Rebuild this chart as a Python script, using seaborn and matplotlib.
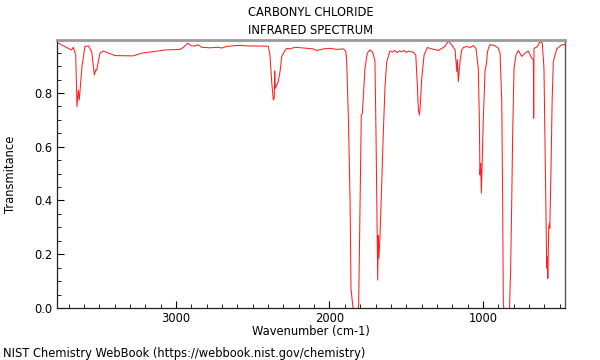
import numpy as np
import pandas as pd
import matplotlib
matplotlib.use("Agg")
import matplotlib.pyplot as plt
import seaborn as sns
from matplotlib.ticker import MultipleLocator, FixedLocator

# ---- data ----
wavenumber = [
    3775, 3702, 3679, 3669, 3653, 3645, 3636, 3630, 3612, 3593, 3571, 3549,
    3532, 3523, 3517, 3495, 3474, 3397, 3278, 3223, 3104, 3072, 2974, 2952,
    2924, 2898, 2876, 2855, 2833, 2779, 2724, 2702, 2670, 2594, 2529, 2399,
    2388, 2375, 2366, 2360, 2357, 2353, 2334, 2322, 2311, 2290, 2279, 2257,
    2225, 2149, 2106, 2083, 2040, 1997, 1953, 1910, 1894, 1888, 1877, 1866,
    1860, 1849, 1840, 1819, 1810, 1801, 1793, 1786, 1769, 1754, 1736, 1719,
    1704, 1697, 1689, 1686, 1682, 1678, 1671, 1660, 1650, 1638, 1627, 1606,
    1590, 1575, 1560, 1545, 1530, 1515, 1500, 1485, 1470, 1454, 1438, 1428,
    1421, 1414, 1410, 1399, 1384, 1363, 1334, 1291, 1248, 1226, 1204, 1182,
    1171, 1167, 1161, 1150, 1139, 1128, 1106, 1085, 1063, 1046, 1031, 1024,
    1020, 1015, 1011, 1007, 998, 987, 976, 972, 965, 954, 922, 900,
    889, 878, 872, 868, 861, 829, 820, 813, 807, 798, 785, 770,
    748, 726, 705, 683, 672, 670, 668, 655, 646, 629, 614, 603,
    594, 585, 581, 578, 572, 568, 565, 557, 550, 542, 520, 487, 466,
]
transmittance = [
    0.988, 0.966, 0.960, 0.970, 0.941, 0.749, 0.810, 0.774, 0.900, 0.973, 0.975, 0.954,
    0.867, 0.886, 0.884, 0.948, 0.956, 0.939, 0.938, 0.948, 0.957, 0.960, 0.962, 0.969,
    0.985, 0.975, 0.975, 0.979, 0.970, 0.968, 0.970, 0.967, 0.973, 0.977, 0.975, 0.974,
    0.941, 0.830, 0.774, 0.780, 0.882, 0.817, 0.842, 0.880, 0.936, 0.958, 0.966, 0.964,
    0.970, 0.966, 0.964, 0.958, 0.964, 0.966, 0.962, 0.964, 0.955, 0.917, 0.706, 0.396,
    0.073, 0.011, -0.030, -0.030, 0.011, 0.396, 0.718, 0.724, 0.892, 0.948, 0.960, 0.952,
    0.920, 0.644, 0.270, 0.104, 0.270, 0.186, 0.270, 0.458, 0.644, 0.830, 0.917, 0.956,
    0.952, 0.958, 0.950, 0.957, 0.953, 0.958, 0.951, 0.956, 0.953, 0.952, 0.941, 0.830,
    0.737, 0.718, 0.743, 0.856, 0.941, 0.969, 0.964, 0.958, 0.973, 0.993, 0.979, 0.960,
    0.880, 0.924, 0.842, 0.917, 0.960, 0.969, 0.973, 0.969, 0.976, 0.966, 0.892, 0.706,
    0.495, 0.538, 0.427, 0.507, 0.706, 0.880, 0.917, 0.950, 0.966, 0.980, 0.976, 0.966,
    0.948, 0.768, 0.396, 0.023, -0.030, -0.030, 0.148, 0.396, 0.644, 0.892, 0.941, 0.958,
    0.936, 0.948, 0.956, 0.929, 0.924, 0.706, 0.966, 0.969, 0.973, 0.991, 0.985, 0.892,
    0.520, 0.148, 0.190, 0.110, 0.297, 0.315, 0.297, 0.520, 0.768, 0.917, 0.964, 0.979, 0.980,
]
x_ticks = [3000, 2000, 1000]
y_ticks = [0.0, 0.2, 0.4, 0.6, 0.8]

df = pd.DataFrame({"wn": wavenumber, "T": transmittance})

sns.set_style("ticks")
plt.rcParams["font.family"] = ["DejaVu Sans"]
plt.rcParams["text.color"] = "black"
plt.rcParams["axes.labelcolor"] = "black"
plt.rcParams["xtick.color"] = "black"
plt.rcParams["ytick.color"] = "black"

FS = 8.3

fig = plt.figure(figsize=(6, 3.6), dpi=100)
ax = fig.add_axes([57 / 600, 1 - 308 / 360, (565 - 57) / 600, (308 - 40) / 360])

sns.lineplot(data=df, x="wn", y="T", ax=ax, sort=False, color="#ff2020",
             linewidth=0.75, estimator=None)

ax.set_xlim(3775, 466)
ax.set_ylim(0, 0.997)
ax.xaxis.set_major_locator(FixedLocator(x_ticks))
ax.xaxis.set_minor_locator(MultipleLocator(100))
ax.yaxis.set_major_locator(FixedLocator(y_ticks))
ax.yaxis.set_minor_locator(MultipleLocator(0.05))
ax.set_xticklabels([str(v) for v in x_ticks])
ax.set_yticklabels([f"{v:.1f}" for v in y_ticks])
ax.tick_params(which="major", direction="in", length=5, width=0.8, labelsize=FS, pad=3)
ax.tick_params(which="minor", direction="in", length=3, width=0.6)

ax.set_xlabel("Wavenumber (cm-1)", fontsize=FS)
ax.set_ylabel("Transmitance", fontsize=FS)
ax.xaxis.set_label_coords(0.5, (308 - 332) / 268)
ax.yaxis.set_label_coords((11 - 57) / 508, 0.5)
ax.xaxis.label.set_va("center")
ax.yaxis.label.set_va("center")

for side in ["left", "bottom"]:
    ax.spines[side].set_color("#222222")
    ax.spines[side].set_linewidth(0.9)
ax.spines["top"].set_color("#9a9a9a")
ax.spines["top"].set_linewidth(2.0)
ax.spines["right"].set_color("#555555")
ax.spines["right"].set_linewidth(1.0)

fig.text(311 / 600, 1 - 13 / 360, "CARBONYL CHLORIDE", ha="center", va="center", fontsize=FS)
fig.text(311 / 600, 1 - 30 / 360, "INFRARED SPECTRUM", ha="center", va="center", fontsize=FS)
fig.text(3 / 600, 1 - 353 / 360, "NIST Chemistry WebBook (https://webbook.nist.gov/chemistry)",
         ha="left", va="center", fontsize=FS)

fig.savefig("out.png", dpi=100)
